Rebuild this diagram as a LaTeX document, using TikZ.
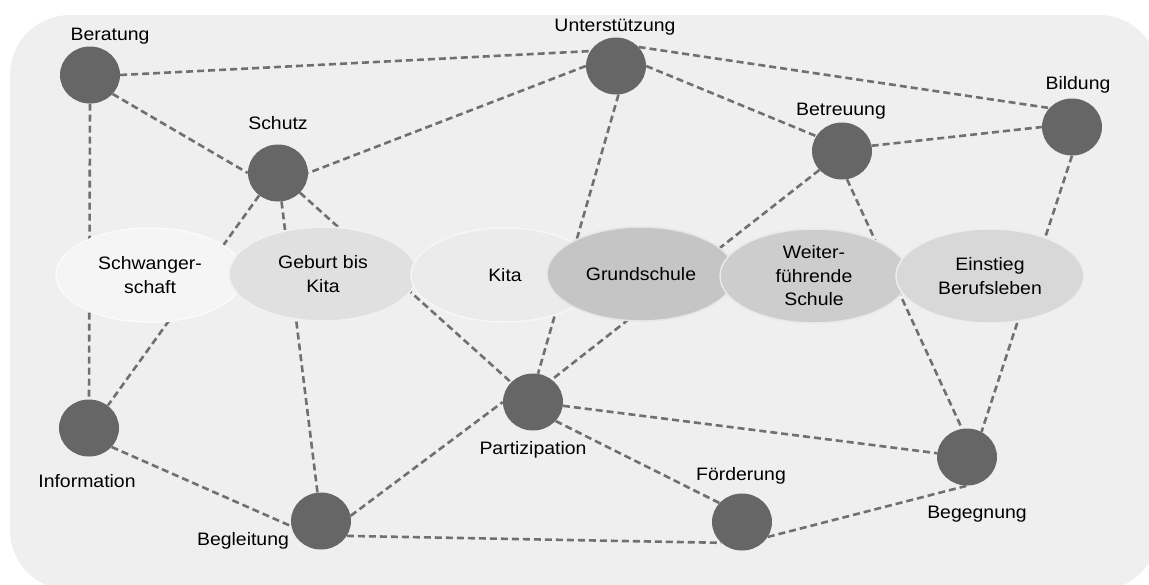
\documentclass[tikz,border=0pt]{standalone}
\usepackage{fontspec}
\setmainfont{Liberation Sans}[FakeStretch=1.08]
\usetikzlibrary{shapes.geometric}
\pgfdeclarelayer{hinten}
\pgfdeclarelayer{linien}
\pgfsetlayers{hinten,linien,main}
\definecolor{hintergrund}{HTML}{EFEFEF}
\definecolor{punktgrau}{HTML}{666666}
\definecolor{liniengrau}{HTML}{707070}
\definecolor{schwanger}{HTML}{F5F5F5}
\definecolor{geburt}{HTML}{E0E0E0}
\definecolor{kita}{HTML}{EBEBEB}
\definecolor{grund}{HTML}{C5C5C5}
\definecolor{weiter}{HTML}{CDCDCD}
\definecolor{beruf}{HTML}{D8D8D8}

\begin{document}
\begin{tikzpicture}[x=1pt,y=-1pt,
	font=\fontsize{18}{23.5}\selectfont,
	punkt/.style={ellipse,fill=punktgrau,minimum width=60pt,minimum height=57pt,inner sep=0pt},
	phase/.style={ellipse,fill=#1,draw=white!55!#1,line width=1.5pt,minimum width=188pt,minimum height=94pt,inner sep=0pt,align=center},
	wort/.style={inner sep=1pt},
	linie/.style={draw=liniengrau,line width=2.6pt,dash pattern=on 7pt off 4pt}]
	\useasboundingbox (0,0) rectangle (1149,584);

	% Lebensphasen
	\node[phase=schwanger] (Schwangerschaft) at (150,275) {Schwanger-\\schaft};
	\node[phase=geburt] (Geburt) at (323,274) {Geburt bis\\Kita};
	\node[phase=kita] (Kita) at (505,275) {Kita};
	\node[phase=grund] (Grundschule) at (641,274) {Grundschule};
	\node[phase=weiter] (Weiterfuehrend) at (814,276) {Weiter-\\führende\\Schule};
	\node[phase=beruf] (Einstieg) at (990,276) {Einstieg\\Berufsleben};

	% Punkte
	\node[punkt] (Beratung) at (90,75) {};
	\node[punkt] (Unterstuetzung) at (616,66) {};
	\node[punkt] (Schutz) at (278,173) {};
	\node[punkt] (Betreuung) at (842,151) {};
	\node[punkt] (Bildung) at (1072,127) {};
	\node[punkt] (Information) at (89,428) {};
	\node[punkt] (Partizipation) at (533,402) {};
	\node[punkt] (Begleitung) at (321,521) {};
	\node[punkt] (Foerderung) at (742,522) {};
	\node[punkt] (Begegnung) at (967,457) {};

	% Beschriftungen
	\node[wort] (lBeratung) at (110,36) {Beratung};
	\node[wort] (lUnterstuetzung) at (615,27) {Unterstützung};
	\node[wort] (lSchutz) at (278,123) {Schutz};
	\node[wort] (lBetreuung) at (841,111) {Betreuung};
	\node[wort] (lBildung) at (1078,85) {Bildung};
	\node[wort] (lInformation) at (87,481) {Information};
	\node[wort] (lPartizipation) at (533,450) {Partizipation};
	\node[wort] (lFoerderung) at (741,476) {Förderung};
	\node[wort] (lBegleitung) at (243,541) {Begleitung};
	\node[wort] (lBegegnung) at (977,514) {Begegnung};

	\begin{pgfonlayer}{linien}
		\foreach \a/\b in {Beratung.0/Unterstuetzung.150, Beratung.-40/Schutz.180,
			Beratung.-90/Information.90, Unterstuetzung.180/Schutz.0,
			Unterstuetzung.0/Betreuung.150, Unterstuetzung.40/Bildung.140,
			Unterstuetzung.-85/Partizipation.80, Betreuung.10/Bildung.180,
			Betreuung.-140/Partizipation.50, Betreuung.-80/Begegnung.100,
			Bildung.-90/Begegnung.60, Schutz.-130/Information.50,
			Schutz/Begleitung, Schutz/Partizipation,
			Information.-40/Begleitung.190, Begleitung.10/Partizipation.180,
			Begleitung.-30/Foerderung.-135, Partizipation.-40/Foerderung.140,
			Partizipation/Begegnung, Foerderung.-30/Begegnung.-90}
			\draw[linie] (\a) -- (\b);
	\end{pgfonlayer}

	\begin{pgfonlayer}{hinten}
		\fill[hintergrund,rounded corners=60pt] (10,15) rectangle (1159,590);
	\end{pgfonlayer}
\end{tikzpicture}
\end{document}
